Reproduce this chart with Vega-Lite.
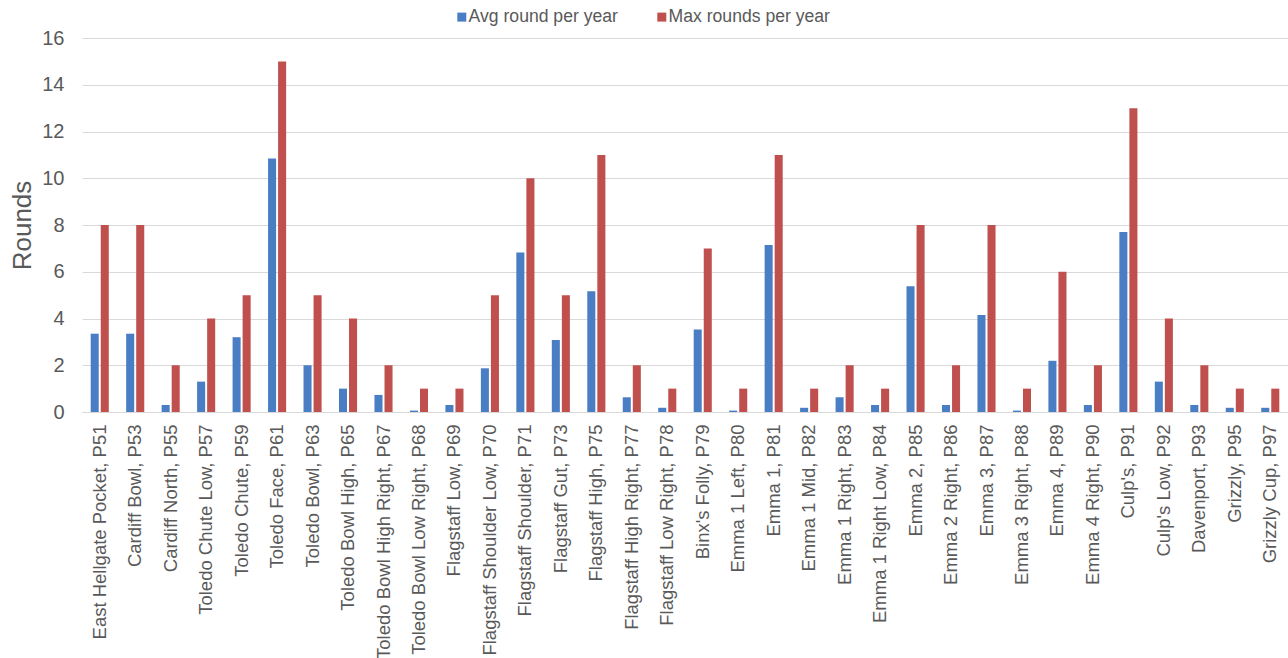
{
  "$schema": "https://vega.github.io/schema/vega-lite/v6.json",
  "autosize": "none",
  "width": 1206,
  "height": 374,
  "padding": {"left": 82, "top": 38, "right": 0, "bottom": 246},
  "background": "white",
  "config": {
    "font": "Liberation Sans",
    "view": {"stroke": null},
    "axis": {"labelColor": "#595959", "titleColor": "#595959", "titleFontWeight": "normal"}
  },
  "data": {
    "values": [
      {"run": "East Hellgate Pocket, P51", "Avg round per year": 3.35, "Max rounds per year": 8},
      {"run": "Cardiff Bowl, P53", "Avg round per year": 3.35, "Max rounds per year": 8},
      {"run": "Cardiff North, P55", "Avg round per year": 0.3, "Max rounds per year": 2},
      {"run": "Toledo Chute Low, P57", "Avg round per year": 1.3, "Max rounds per year": 4},
      {"run": "Toledo Chute, P59", "Avg round per year": 3.2, "Max rounds per year": 5},
      {"run": "Toledo Face, P61", "Avg round per year": 10.85, "Max rounds per year": 15},
      {"run": "Toledo Bowl, P63", "Avg round per year": 2.0, "Max rounds per year": 5},
      {"run": "Toledo Bowl High, P65", "Avg round per year": 1.0, "Max rounds per year": 4},
      {"run": "Toledo Bowl High Right, P67", "Avg round per year": 0.73, "Max rounds per year": 2},
      {"run": "Toledo Bowl Low Right, P68", "Avg round per year": 0.06, "Max rounds per year": 1},
      {"run": "Flagstaff Low, P69", "Avg round per year": 0.3, "Max rounds per year": 1},
      {"run": "Flagstaff Shoulder Low, P70", "Avg round per year": 1.87, "Max rounds per year": 5},
      {"run": "Flagstaff Shoulder, P71", "Avg round per year": 6.82, "Max rounds per year": 10},
      {"run": "Flagstaff Gut, P73", "Avg round per year": 3.08, "Max rounds per year": 5},
      {"run": "Flagstaff High, P75", "Avg round per year": 5.17, "Max rounds per year": 11},
      {"run": "Flagstaff High Right, P77", "Avg round per year": 0.63, "Max rounds per year": 2},
      {"run": "Flagstaff Low Right, P78", "Avg round per year": 0.18, "Max rounds per year": 1},
      {"run": "Binx's Folly, P79", "Avg round per year": 3.53, "Max rounds per year": 7},
      {"run": "Emma 1 Left, P80", "Avg round per year": 0.06, "Max rounds per year": 1},
      {"run": "Emma 1, P81", "Avg round per year": 7.14, "Max rounds per year": 11},
      {"run": "Emma 1 Mid, P82", "Avg round per year": 0.18, "Max rounds per year": 1},
      {"run": "Emma 1 Right, P83", "Avg round per year": 0.63, "Max rounds per year": 2},
      {"run": "Emma 1 Right Low, P84", "Avg round per year": 0.3, "Max rounds per year": 1},
      {"run": "Emma 2, P85", "Avg round per year": 5.38, "Max rounds per year": 8},
      {"run": "Emma 2 Right, P86", "Avg round per year": 0.3, "Max rounds per year": 2},
      {"run": "Emma 3, P87", "Avg round per year": 4.15, "Max rounds per year": 8},
      {"run": "Emma 3 Right, P88", "Avg round per year": 0.06, "Max rounds per year": 1},
      {"run": "Emma 4, P89", "Avg round per year": 2.19, "Max rounds per year": 6},
      {"run": "Emma 4 Right, P90", "Avg round per year": 0.3, "Max rounds per year": 2},
      {"run": "Culp's, P91", "Avg round per year": 7.7, "Max rounds per year": 13},
      {"run": "Culp's Low, P92", "Avg round per year": 1.3, "Max rounds per year": 4},
      {"run": "Davenport, P93", "Avg round per year": 0.3, "Max rounds per year": 2},
      {"run": "Grizzly, P95", "Avg round per year": 0.18, "Max rounds per year": 1},
      {"run": "Grizzly Cup, P97", "Avg round per year": 0.18, "Max rounds per year": 1}
    ]
  },
  "transform": [
    {"fold": ["Avg round per year", "Max rounds per year"], "as": ["series", "rounds"]}
  ],
  "mark": {"type": "bar"},
  "encoding": {
    "x": {
      "field": "run",
      "type": "nominal",
      "sort": null,
      "scale": {"paddingInner": 0.49, "paddingOuter": 0.245},
      "axis": {
        "title": null,
        "labelAngle": -90,
        "labelAlign": "right",
        "labelBaseline": "middle",
        "labelFontSize": 18.5,
        "labelPadding": 12,
        "labelLimit": 300,
        "ticks": false,
        "domain": true,
        "domainColor": "#d9d9d9",
        "domainWidth": 1
      }
    },
    "xOffset": {
      "field": "series",
      "type": "nominal",
      "sort": ["Avg round per year", "Max rounds per year"],
      "scale": {"paddingInner": 0.2, "paddingOuter": 0}
    },
    "y": {
      "field": "rounds",
      "type": "quantitative",
      "scale": {"domain": [0, 16], "nice": false},
      "axis": {
        "title": "Rounds",
        "titleFontSize": 26,
        "titlePadding": 6,
        "values": [0, 2, 4, 6, 8, 10, 12, 14, 16],
        "labelFontSize": 20,
        "labelPadding": 18,
        "ticks": false,
        "domain": false,
        "grid": true,
        "gridColor": "#d9d9d9",
        "gridWidth": 1
      }
    },
    "color": {
      "field": "series",
      "type": "nominal",
      "scale": {
        "domain": ["Avg round per year", "Max rounds per year"],
        "range": ["#4a7ec4", "#c0504d"]
      },
      "legend": {
        "title": null,
        "orient": "none",
        "direction": "horizontal",
        "legendX": 371,
        "legendY": -30,
        "symbolType": "square",
        "symbolSize": 81,
        "symbolStrokeWidth": 0,
        "labelFontSize": 17.6,
        "labelColor": "#595959",
        "labelOffset": -2,
        "labelLimit": 300,
        "columnPadding": 35
      }
    }
  }
}
